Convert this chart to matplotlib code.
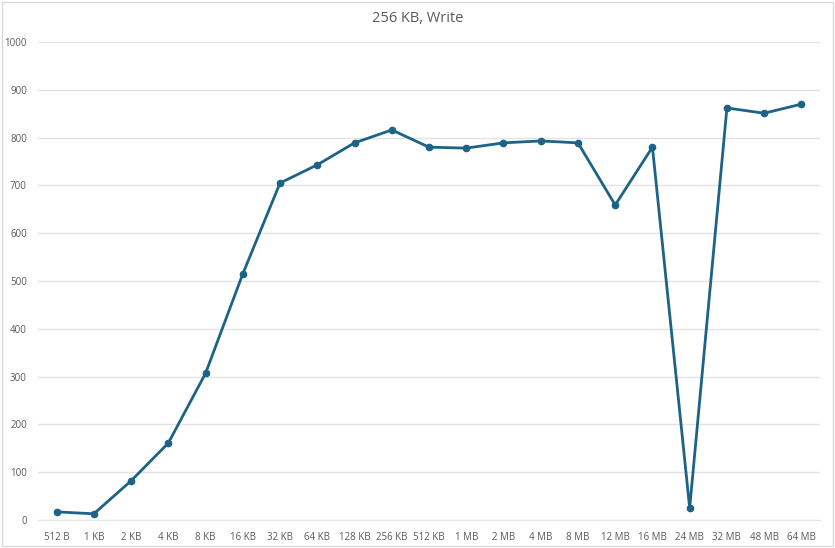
import matplotlib
matplotlib.use("Agg")
import matplotlib.pyplot as plt
from matplotlib.patches import Rectangle

plt.rcParams["font.family"] = ["Open Sans", "DejaVu Sans"]

sizes = ["512 B", "1 KB", "2 KB", "4 KB", "8 KB", "16 KB", "32 KB", "64 KB",
         "128 KB", "256 KB", "512 KB", "1 MB", "2 MB", "4 MB", "8 MB",
         "12 MB", "16 MB", "24 MB", "32 MB", "48 MB", "64 MB"]
speeds = [17, 13, 82, 161, 307, 515, 705, 743, 789, 816, 780, 778, 789, 793,
          789, 659, 780, 25, 862, 851, 870]

fig = plt.figure(figsize=(8.35, 5.48), dpi=100)
ax = fig.add_axes([38 / 835, 1 - 520 / 548, 782 / 835, 478 / 548])

x = list(range(len(sizes)))
ax.plot(x, speeds, color="#1c6385", linewidth=2, marker="o", markersize=4.5)

ax.set_xlim(-0.5, len(sizes) - 0.5)
ax.set_ylim(0, 1000)
ax.set_yticks(range(0, 1001, 100))
ax.set_xticks(x)
ax.set_xticklabels(sizes)
ax.tick_params(axis="both", length=0, labelsize=7, colors="#595959")
ax.tick_params(axis="x", pad=9)
ax.tick_params(axis="y", pad=8)
ax.grid(axis="y", color="#e3e3e3", linewidth=1)
ax.set_axisbelow(True)
for side in ["top", "right", "left"]:
    ax.spines[side].set_visible(False)
ax.spines["bottom"].set_color("#e3e3e3")

fig.text(0.5, 1 - 19 / 548, "256 KB, Write", ha="center", va="center",
         fontsize=10.5, color="#595959")

# light frame round the chart
fig.patches.append(Rectangle((0.002, 0.003), 0.996, 0.994, transform=fig.transFigure,
                             fill=False, edgecolor="#d9d9d9", linewidth=1))

fig.savefig("out.png", dpi=100)
